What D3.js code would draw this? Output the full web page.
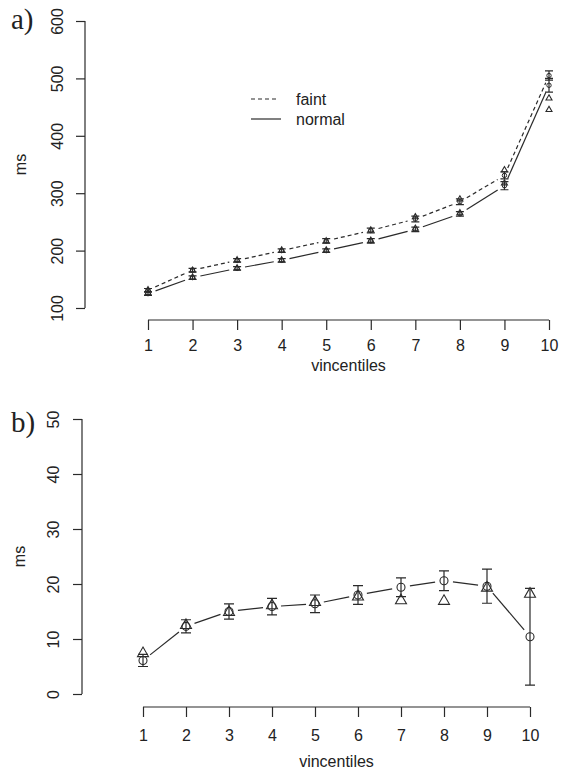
<!DOCTYPE html>
<html>
<head>
<meta charset="utf-8">
<script src="https://cdn.jsdelivr.net/npm/d3@7"></script>
<style>
 body { margin: 0; background: #fff; }
 text { font-family: "Liberation Sans", Arial, sans-serif; fill: #222; }
</style>
</head>
<body>
<div id="chart"></div>
<script>
// vincentile data
var vincentiles = [1, 2, 3, 4, 5, 6, 7, 8, 9, 10];

// panel a) RT in ms
var faintRT = [131, 166, 183, 200, 217, 235, 255, 285, 331, 505];
var faintErr = [3, 3, 3, 3, 4, 4, 5, 5, 6, 8];
var normalRT = [125, 153, 169, 183, 200, 217, 237, 264, 313, 488];
var normalErr = [3, 3, 3, 3, 3, 4, 4, 4, 7, 12];
var faintModel = [132, 166, 184, 201, 217, 236, 259, 290, 341, 466];
var normalModel = [127, 154, 170, 184, 201, 218, 239, 266, 318, 446];
var yTicksA = [100, 200, 300, 400, 500, 600];

// panel b) difference in ms
var diffRT = [6.1, 12.3, 15.0, 15.9, 16.4, 18.0, 19.4, 20.6, 19.6, 10.4];
var diffErr = [1.1, 1.2, 1.4, 1.5, 1.6, 1.7, 1.7, 1.8, 3.1, 8.8];
var diffModel = [7.5, 12.6, 15.0, 16.2, 16.8, 17.8, 17.1, 17.0, 19.4, 18.3];
var yTicksB = [0, 10, 20, 30, 40, 50];

var ink = "#2a2a2a";
var fs = 16;

var svg = d3.select("#chart").append("svg")
  .attr("width", 565)
  .attr("height", 772);

// line with gaps around the points, like R type="b"
function gappedSegments(g, xs, ys, gap, dash) {
  for (var i = 0; i < xs.length - 1; i++) {
    var x0 = xs[i], y0 = ys[i], x1 = xs[i + 1], y1 = ys[i + 1];
    var dx = x1 - x0, dy = y1 - y0, len = Math.sqrt(dx * dx + dy * dy);
    if (len <= 2 * gap) continue;
    var ux = dx / len, uy = dy / len;
    g.append("line")
      .attr("x1", x0 + ux * gap).attr("y1", y0 + uy * gap)
      .attr("x2", x1 - ux * gap).attr("y2", y1 - uy * gap)
      .attr("stroke", ink).attr("stroke-width", 1.2)
      .attr("stroke-dasharray", dash ? "4,3" : null);
  }
}

function triangle(size) {
  return function (g, cx, cy) {
    var h = size * 0.87;
    g.append("path")
      .attr("d", "M" + cx + "," + (cy - h * 0.6) + "L" + (cx + size / 2) + "," + (cy + h * 0.4) +
        "L" + (cx - size / 2) + "," + (cy + h * 0.4) + "Z")
      .attr("fill", "none").attr("stroke", ink).attr("stroke-width", 1.1);
  };
}

function errorBars(g, x, y, vals, errs, cap) {
  g.selectAll(null).data(vals).enter().append("path")
    .attr("d", function (d, i) {
      var cx = x(vincentiles[i]), t = y(d + errs[i]), b = y(d - errs[i]);
      return "M" + cx + "," + t + "V" + b +
        "M" + (cx - cap) + "," + t + "H" + (cx + cap) +
        "M" + (cx - cap) + "," + b + "H" + (cx + cap);
    })
    .attr("fill", "none").attr("stroke", ink).attr("stroke-width", 1.2);
}

function drawAxes(g, x, y, yTicks, o) {
  var xAxis = g.append("g").attr("transform", "translate(0," + o.axisY + ")")
    .call(d3.axisBottom(x).tickValues(vincentiles).tickSize(10).tickSizeOuter(0).tickPadding(o.tickPad));
  xAxis.select(".domain").attr("d", "M" + x(1) + ",0H" + x(10));
  xAxis.selectAll("line, path").attr("stroke", ink).attr("stroke-width", 1.2);
  xAxis.selectAll("text").attr("font-size", fs).style("font-family", "Liberation Sans, Arial, sans-serif").attr("fill", "#222");

  var yAxis = g.append("g").attr("transform", "translate(" + o.axisX + ",0)")
    .call(d3.axisLeft(y).tickValues(yTicks).tickSize(9).tickSizeOuter(0));
  yAxis.select(".domain").attr("d", "M0," + y(yTicks[0]) + "V" + y(yTicks[yTicks.length - 1]));
  yAxis.selectAll("line, path").attr("stroke", ink).attr("stroke-width", 1.2);
  yAxis.selectAll(".tick text")
    .attr("x", 0)
    .attr("transform", "translate(" + (o.yLabelX - o.axisX) + ",0) rotate(-90)")
    .attr("text-anchor", "middle").attr("dy", "0.35em")
    .attr("font-size", fs).style("font-family", "Liberation Sans, Arial, sans-serif").attr("fill", "#222");

  g.append("text")
    .attr("transform", "translate(" + o.msX + "," + ((y(yTicks[0]) + y(yTicks[yTicks.length - 1])) / 2) + ") rotate(-90)")
    .attr("text-anchor", "middle").attr("dy", "0.35em")
    .attr("font-size", fs).text("ms");

  g.append("text")
    .attr("x", (x(1) + x(10)) / 2).attr("y", o.axisY + o.titleOff)
    .attr("text-anchor", "middle").attr("font-size", fs).text("vincentiles");

  g.append("text")
    .attr("x", 11).attr("y", o.panelY)
    .style("font-family", "Liberation Serif, Times New Roman, serif")
    .attr("font-size", 29).text(o.label);
}

// ---------- panel a ----------
var xA = d3.scaleLinear().domain([1, 10]).range([148, 549]);
var yA = d3.scaleLinear().domain([100, 600]).range([308, 21]);
var gA = svg.append("g");
drawAxes(gA, xA, yA, yTicksA,
  { axisX: 85, axisY: 320, tickPad: 10, titleOff: 51, yLabelX: 57, msX: 20, label: "a)", panelY: 29 });

var xsA = vincentiles.map(function (v) { return xA(v); });
gappedSegments(gA, xsA, faintRT.map(function (v) { return yA(v); }), 8, true);
gappedSegments(gA, xsA, normalRT.map(function (v) { return yA(v); }), 8, false);

errorBars(gA, xA, yA, faintRT, faintErr, 4);
errorBars(gA, xA, yA, normalRT, normalErr, 4);

var smallTri = triangle(6);
faintModel.forEach(function (v, i) { smallTri(gA, xA(vincentiles[i]), yA(v)); });
normalModel.forEach(function (v, i) { smallTri(gA, xA(vincentiles[i]), yA(v)); });

gA.selectAll(null).data(faintRT.concat(normalRT)).enter().append("circle")
  .attr("cx", function (d, i) { return xA(vincentiles[i % 10]); })
  .attr("cy", function (d) { return yA(d); })
  .attr("r", 2.2).attr("fill", "none").attr("stroke", ink).attr("stroke-width", 1);

// legend
var legend = gA.append("g");
legend.append("line").attr("x1", 251).attr("x2", 278).attr("y1", 99).attr("y2", 99)
  .attr("stroke", ink).attr("stroke-width", 1.2).attr("stroke-dasharray", "4,3");
legend.append("text").attr("x", 296).attr("y", 105).attr("font-size", fs).text("faint");
legend.append("line").attr("x1", 251).attr("x2", 281).attr("y1", 119).attr("y2", 119)
  .attr("stroke", ink).attr("stroke-width", 1.2);
legend.append("text").attr("x", 296).attr("y", 125).attr("font-size", fs).text("normal");

// ---------- panel b ----------
var xB = d3.scaleLinear().domain([1, 10]).range([143, 530]);
var yB = d3.scaleLinear().domain([0, 50]).range([694, 419]);
var gB = svg.append("g");
drawAxes(gB, xB, yB, yTicksB,
  { axisX: 82, axisY: 707, tickPad: 13, titleOff: 60, yLabelX: 53, msX: 19, label: "b)", panelY: 432 });

gappedSegments(gB, vincentiles.map(function (v) { return xB(v); }),
  diffRT.map(function (v) { return yB(v); }), 9, false);
errorBars(gB, xB, yB, diffRT, diffErr, 5);

var bigTri = triangle(11);
diffModel.forEach(function (v, i) { bigTri(gB, xB(vincentiles[i]), yB(v)); });

gB.selectAll(null).data(diffRT).enter().append("circle")
  .attr("cx", function (d, i) { return xB(vincentiles[i]); })
  .attr("cy", function (d) { return yB(d); })
  .attr("r", 4).attr("fill", "none").attr("stroke", ink).attr("stroke-width", 1.1);
</script>
</body>
</html>
